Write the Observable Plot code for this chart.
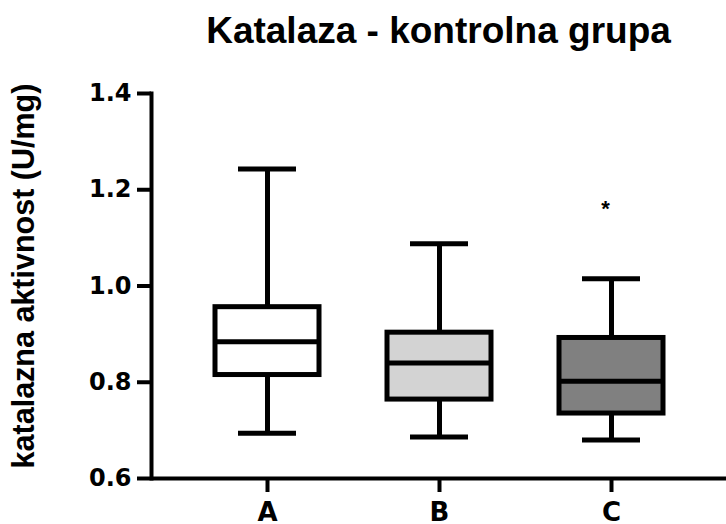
<!DOCTYPE html>
<html>
<head>
<meta charset="utf-8">
<script src="https://cdn.jsdelivr.net/npm/d3@7"></script>
<script src="https://cdn.jsdelivr.net/npm/@observablehq/plot@0.6"></script>
<style>
  html, body { margin: 0; padding: 0; background: #fff; }
  #wrap { width: 726px; height: 524px; overflow: hidden; font-family: "Liberation Sans", Arial, sans-serif; }
  #title { box-sizing: border-box; height: 70px; padding-top: 12px; padding-left: 151px; text-align: center;
           font-size: 37px; font-weight: bold; line-height: 1; color: #000; }
  #chart g[aria-label="y-axis tick label"] text,
  #chart g[aria-label="x-axis tick label"] text { font-family: "DejaVu Sans", sans-serif; }
</style>
</head>
<body>
<div id="wrap">
  <div id="title">Katalaza - kontrolna grupa</div>
  <div id="chart"></div>
</div>
<script>
const categories = ["A", "B", "C"];
const whiskerLow = [0.694, 0.686, 0.680];
const q1 = [0.815, 0.764, 0.735];
const median = [0.884, 0.840, 0.802];
const q3 = [0.956, 0.903, 0.892];
const whiskerHigh = [1.243, 1.088, 1.015];
const boxFills = ["#ffffff", "#d3d3d3", "#808080"];
const outlierGroups = ["C"];
const outlierValues = [1.163];
const yTicks = [0.6, 0.8, 1.0, 1.2, 1.4];
const yLabel = "katalazna aktivnost (U/mg)";

const rows = categories.map((g, i) => ({
  group: g, lo: whiskerLow[i], q1: q1[i], med: median[i], q3: q3[i], hi: whiskerHigh[i], fill: boxFills[i]
}));
const outliers = outlierGroups.map((g, i) => ({group: g, value: outlierValues[i]}));

const chart = Plot.plot({
  width: 726,
  height: 454,
  marginTop: 23,
  marginBottom: 46,
  marginLeft: 151,
  marginRight: 0,
  style: {fontFamily: "'Liberation Sans', Arial, sans-serif", fontWeight: "bold", color: "#000", background: "#fff", overflow: "visible"},
  x: {domain: categories, paddingInner: 0.397, paddingOuter: 0.365},
  y: {domain: [0.6, 1.4]},
  color: {type: "identity"},
  marks: [
    Plot.ruleX(rows, {x: "group", y1: "lo", y2: "hi", stroke: "#000", strokeWidth: 5}),
    Plot.tickY(rows, {x: "group", y: "lo", stroke: "#000", strokeWidth: 5, insetLeft: 23, insetRight: 23}),
    Plot.tickY(rows, {x: "group", y: "hi", stroke: "#000", strokeWidth: 5, insetLeft: 23, insetRight: 23}),
    Plot.barY(rows, {x: "group", y1: "q1", y2: "q3", fill: "fill", stroke: "#000", strokeWidth: 5}),
    Plot.tickY(rows, {x: "group", y: "med", stroke: "#000", strokeWidth: 5, insetLeft: -2, insetRight: -2}),
    Plot.text(outliers, {x: "group", y: "value", text: () => "*", fontSize: 22, dx: -6, dy: 1}),
    Plot.ruleY([0.6], {stroke: "#000", strokeWidth: 4}),
    Plot.frame({anchor: "left", stroke: "#000", strokeWidth: 4}),
    Plot.axisY({ticks: yTicks, tickFormat: ".1f", tickSize: 14, tickPadding: 6, strokeWidth: 4, fontSize: 24, label: null}),
    Plot.axisX({tickSize: 14, tickPadding: 10, strokeWidth: 4, fontSize: 26, label: null}),
    Plot.text([yLabel], {text: d => d, frameAnchor: "left", textAnchor: "middle", rotate: -90, lineAnchor: "top", dx: -139, dy: -10, fontSize: 30.5})
  ]
});
document.getElementById("chart").appendChild(chart);
</script>
</body>
</html>
